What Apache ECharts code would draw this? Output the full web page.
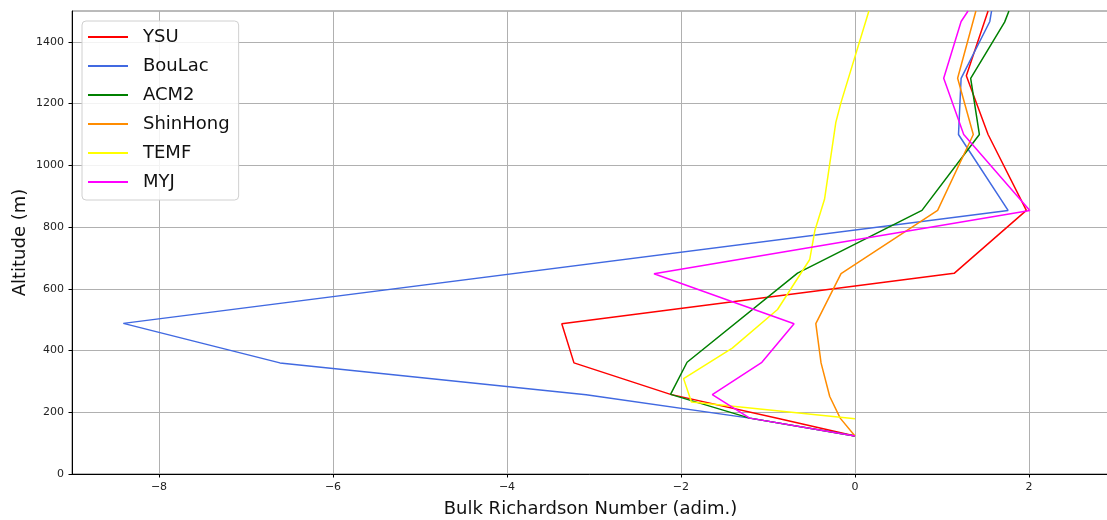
<!DOCTYPE html>
<html>
<head>
<meta charset="utf-8">
<script src="https://cdn.jsdelivr.net/npm/echarts@6/dist/echarts.min.js"></script>
<style>html,body{margin:0;padding:0;background:#fff}#c{width:1107px;height:520px}</style>
</head>
<body>
<div id="c"></div>
<script>
// Bulk Richardson number (x) and altitude in m (y) per PBL scheme
const ysuRi  = [0, -0.88, -2.12, -3.23, -3.37, 1.14, 1.97, 1.53, 1.28, 1.53];
const ysuAlt = [123, 180, 258, 360, 487, 650, 854, 1100, 1290, 1500];
const boulacRi  = [0, -1.21, -3.09, -6.61, -8.41, 1.76, 1.19, 1.22, 1.55, 1.57];
const boulacAlt = [123, 181, 257, 360, 488, 854, 1100, 1282, 1466, 1500];
const acm2Ri  = [0, -1.21, -2.12, -1.93, -0.66, 0.77, 1.43, 1.33, 1.72, 1.77];
const acm2Alt = [123, 181, 258, 362, 651, 854, 1100, 1282, 1464, 1500];
const shinhongRi  = [0, -0.17, -0.29, -0.39, -0.45, -0.16, 0.95, 1.36, 1.18, 1.39];
const shinhongAlt = [123, 181, 251, 360, 487, 649, 854, 1100, 1282, 1500];
const temfRi  = [0, -1.88, -1.97, -1.41, -0.89, -0.52, -0.46, -0.35, -0.22, -0.16, 0.16];
const temfAlt = [179, 233, 309, 408, 533, 695, 790, 890, 1139, 1204, 1500];
const myjRi  = [0, -1.21, -1.64, -1.07, -0.70, -2.31, 2.01, 1.25, 1.02, 1.22, 1.30];
const myjAlt = [123, 181, 257, 362, 487, 649, 854, 1100, 1282, 1466, 1500];

const xTicks = [-8, -6, -4, -2, 0, 2];
const yTicks = [0, 200, 400, 600, 800, 1000, 1200, 1400];

const schemes = [
  {name: 'YSU', ri: ysuRi, alt: ysuAlt, color: '#ff0000'},
  {name: 'BouLac', ri: boulacRi, alt: boulacAlt, color: '#4169e1'},
  {name: 'ACM2', ri: acm2Ri, alt: acm2Alt, color: '#008000'},
  {name: 'ShinHong', ri: shinhongRi, alt: shinhongAlt, color: '#ff8c00'},
  {name: 'TEMF', ri: temfRi, alt: temfAlt, color: '#ffff00'},
  {name: 'MYJ', ri: myjRi, alt: myjAlt, color: '#ff00ff'}
];

const font = 'DejaVu Sans';
const chart = echarts.init(document.getElementById('c'), null, {renderer: 'canvas'});
chart.setOption({
  animation: false,
  backgroundColor: '#fff',
  textStyle: {fontFamily: font},
  grid: {left: 72, top: 11, bottom: 46, right: -2, containLabel: false, outerBoundsMode: 'none',
    show: true, borderColor: '#777', borderWidth: 1, backgroundColor: 'transparent'},
  legend: {
    orient: 'vertical', left: 82, top: 21,
    padding: [6, 9, 8, 6],
    itemWidth: 40, itemHeight: 2, itemGap: 9, icon: 'rect',
    backgroundColor: 'rgba(255,255,255,0.85)',
    borderColor: '#d0d0d0', borderWidth: 1, borderRadius: 4,
    textStyle: {fontFamily: font, fontSize: 18, color: '#111', lineHeight: 20, padding: [0, 0, 0, 10]},
    data: schemes.map(s => s.name)
  },
  xAxis: {
    type: 'value', min: -9, max: 2.92,
    name: 'Bulk Richardson Number (adim.)', nameLocation: 'middle', nameGap: 26, nameMoveOverlap: false,
    nameTextStyle: {fontFamily: font, fontSize: 18, color: '#111'},
    axisLine: {show: true, onZero: false, lineStyle: {color: '#000', width: 1}},
    axisTick: {show: true, inside: false, length: 3.5, customValues: xTicks, lineStyle: {color: '#000'}},
    axisLabel: {customValues: xTicks, margin: 8, fontSize: 11, color: '#222', fontFamily: font,
      formatter: v => String(v).replace('-', '\u2212')},
    splitLine: {show: true, lineStyle: {color: '#b0b0b0', width: 1}}
  },
  yAxis: {
    type: 'value', min: 0, max: 1500,
    name: 'Altitude (m)', nameLocation: 'middle', nameGap: 43, nameMoveOverlap: false,
    nameTextStyle: {fontFamily: font, fontSize: 18, color: '#111'},
    axisLine: {show: true, onZero: false, lineStyle: {color: '#000', width: 1}},
    axisTick: {show: true, inside: false, length: 3.5, customValues: yTicks, lineStyle: {color: '#000'}},
    axisLabel: {customValues: yTicks, margin: 8, fontSize: 11, color: '#222', fontFamily: font,
      formatter: v => String(v)},
    splitLine: {show: true, lineStyle: {color: '#b0b0b0', width: 1}}
  },
  series: schemes.map(s => ({
    name: s.name, type: 'line', symbol: 'none', showSymbol: false,
    clip: true,
    data: s.ri.map((r, i) => [r, s.alt[i]]),
    lineStyle: {color: s.color, width: 1.5},
    itemStyle: {color: s.color}
  }))
});
</script>
</body>
</html>
